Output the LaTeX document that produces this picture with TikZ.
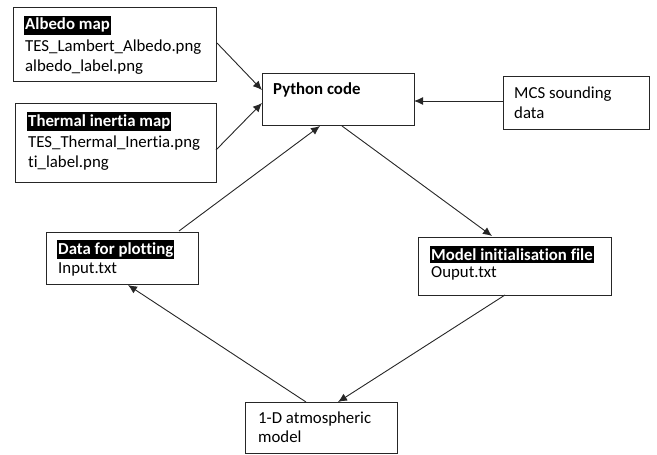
\documentclass[tikz,border=0pt]{standalone}
\usepackage{fontspec}
\setmainfont{Carlito}[RawFeature={-liga;-dlig}]
\usetikzlibrary{arrows.meta}
\begin{document}
\begin{tikzpicture}[x=1pt,y=-1pt,
  box/.style={draw=black!85,line width=0.9pt,inner sep=0pt,anchor=north west},
  txt/.style={anchor=base west,inner sep=0pt,font=\fontsize{16.8}{19}\selectfont},
  hl/.style={anchor=base west,inner xsep=1pt,inner ysep=2.5pt,fill=black,text=white,font=\fontsize{16.8}{19}\selectfont\bfseries},
  arr/.style={draw=black!85,line width=0.9pt,-{Latex[length=9pt,width=8pt]}},
  ln/.style={draw=black!85,line width=0.9pt}]
\useasboundingbox (0,0) rectangle (657,455);
% boxes
\node[box,minimum width=203pt,minimum height=74pt] (albedo) at (13,7) {};
\node[box,minimum width=201pt,minimum height=79pt] (thermal) at (15,103) {};
\node[box,minimum width=152pt,minimum height=52pt] (python) at (262,73) {};
\node[box,minimum width=146pt,minimum height=53pt] (mcs) at (503,76) {};
\node[box,minimum width=152pt,minimum height=52pt] (data) at (46,232) {};
\node[box,minimum width=193pt,minimum height=58pt] (model) at (418,237) {};
\node[box,minimum width=152pt,minimum height=51pt] (oned) at (245,402) {};
% texts
\node[hl] (albedoH) at (24,30) {Albedo map};
\node[txt] (albedoA) at (25,51) {TES\_Lambert\_Albedo.png};
\node[txt] (albedoB) at (25,71) {albedo\_label.png};
\node[hl] (thermalH) at (27,126) {Thermal inertia map};
\node[txt] (thermalA) at (28,147) {TES\_Thermal\_Inertia.png};
\node[txt] (thermalB) at (28,167) {ti\_label.png};
\node[txt,font=\fontsize{16.8}{19}\selectfont\bfseries] (pythonT) at (273,94) {Python code};
\node[txt] (mcsA) at (514,98) {MCS sounding};
\node[txt] (mcsB) at (514,118) {data};
\node[hl] (dataH) at (57,254) {Data for plotting};
\node[txt] (dataA) at (58,273) {Input.txt};
\node[hl] (modelH) at (430,260) {Model initialisation file};
\node[txt] (modelA) at (431,277) {Ouput.txt};
\node[txt] (onedA) at (258,423) {1-D atmospheric};
\node[txt] (onedB) at (258,442) {model};
% connectors
\coordinate (a1) at (217,43);
\coordinate (a2) at (262,90);
\coordinate (t1) at (216,150);
\coordinate (t2) at (262,103);
\coordinate (d1) at (179,231);
\coordinate (d2) at (320,126);
\coordinate (p1) at (342,126);
\coordinate (m2) at (492,236);
\coordinate (m1) at (505,295);
\coordinate (o2) at (338,402);
\coordinate (o1) at (306,402);
\coordinate (d3) at (128,285);
\coordinate (c1) at (503,101);
\coordinate (c2) at (414,101);
\draw[arr] (a1) -- (a2);
\draw[arr] (t1) -- (t2);
\draw[arr] (d1) -- (d2);
\draw[arr] (p1) -- (m2);
\draw[arr] (m1) -- (o2);
\draw[arr] (o1) -- (d3);
\draw[arr] (c1) -- (c2);
\end{tikzpicture}
\end{document}
